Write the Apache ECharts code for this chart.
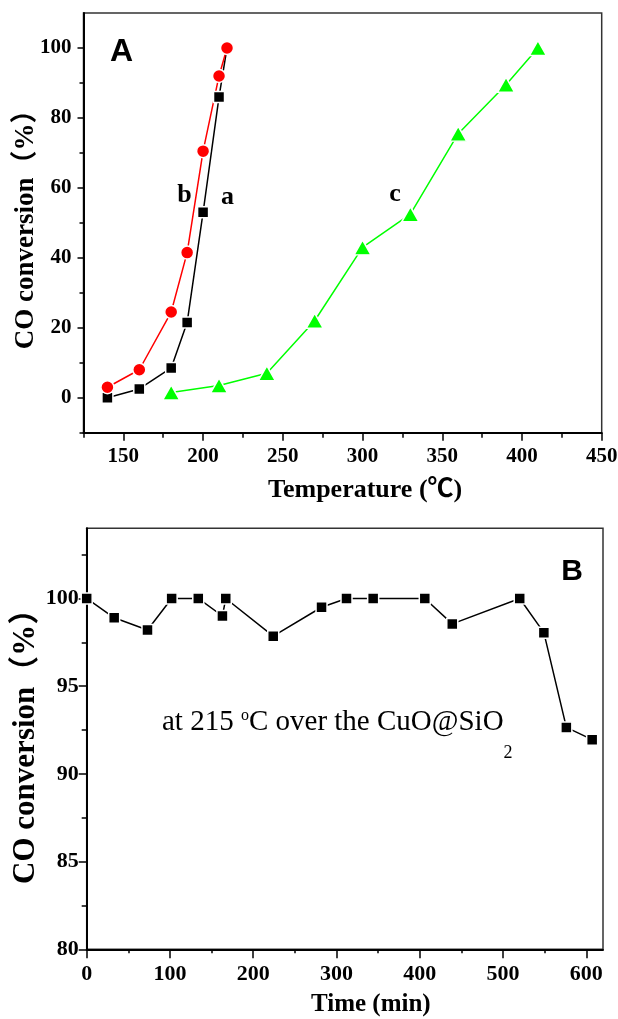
<!DOCTYPE html>
<html>
<head>
<meta charset="utf-8">
<script src="https://cdn.jsdelivr.net/npm/echarts@6/dist/echarts.min.js"></script>
<style>
  html, body { margin: 0; padding: 0; background: #fff; }
  #chart { width: 618px; height: 1019px; }
</style>
</head>
<body>
<div id="chart"></div>
<script>
// panel A: light-off curves
const tempA = [140, 160, 180, 190, 200, 210, 215];
const convA = [0, 2.5, 8.5, 21.5, 53, 86, 100];
const tempB = [140, 160, 180, 190, 200, 210, 215];
const convB = [3, 8, 24.5, 41.5, 70.5, 92, 100];
const tempC = [180, 210, 240, 270, 300, 330, 360, 390, 410];
const convC = [1.5, 3.5, 7, 22, 43, 52.5, 75.5, 89.5, 100];

// panel B: stability at 215 °C
const timeMin = [0, 33, 73, 102, 134, 163, 167, 224, 282, 312, 344, 406, 439, 520, 549, 576, 607];
const stability = [100, 98.9, 98.2, 100, 100, 99, 100, 97.85, 99.5, 100, 100, 100, 98.55, 100, 98.05, 92.65, 91.95];

// tick labels
const tempTicks = [150, 200, 250, 300, 350, 400, 450];
const tempMinor = [125, 175, 225, 275, 325, 375, 425];
const convTicks = [0, 20, 40, 60, 80, 100];
const convMinor = [-10, 10, 30, 50, 70, 90];
const timeTicks = [0, 100, 200, 300, 400, 500, 600];
const timeMinor = [50, 150, 250, 350, 450, 550];
const stabTicks = [80, 85, 90, 95, 100];
const stabMinor = [82.5, 87.5, 92.5, 97.5, 102.5];

const serif = '"Liberation Serif", "Times New Roman", "Noto Sans CJK SC", serif';
const sans = '"Liberation Sans", Arial, sans-serif';

const chart = echarts.init(document.getElementById('chart'));

const axisLine = { show: true, onZero: false, lineStyle: { color: '#000', width: 2 } };
function labelStyle(size) {
  return { fontFamily: serif, fontWeight: 'bold', fontSize: size, color: '#000' };
}

// major axis carries line, labels and long ticks; a twin axis only draws the short ticks
function majorAxis(extra, ticks, tickLen, margin, size) {
  return Object.assign({
    type: 'value',
    axisLine: axisLine,
    splitLine: { show: false },
    nameMoveOverlap: false,
    axisTick: { show: true, inside: false, length: tickLen, customValues: ticks,
      lineStyle: { color: '#000', width: 1.5 } },
    axisLabel: Object.assign({ customValues: ticks, margin: margin }, labelStyle(size))
  }, extra);
}
function minorAxis(extra, ticks, tickLen) {
  return Object.assign({
    type: 'value',
    axisLine: { show: false, onZero: false },
    splitLine: { show: false },
    axisTick: { show: true, inside: false, length: tickLen, customValues: ticks,
      lineStyle: { color: '#000', width: 1.5 } },
    axisLabel: { show: false }
  }, extra);
}

const option = {
  animation: false,
  grid: [
    { left: 83.5, top: 13, right: 16.3, bottom: 586.3, outerBoundsMode: 'none',
      show: true, borderColor: '#333', borderWidth: 1.5 },
    { left: 86.7, top: 528.3, right: 15, bottom: 69.7, outerBoundsMode: 'none',
      show: true, borderColor: '#333', borderWidth: 1.5 }
  ],
  xAxis: [
    majorAxis({ gridIndex: 0, min: 125, max: 450, position: 'bottom',
      name: 'Temperature (℃)', nameLocation: 'middle', nameGap: 45,
      nameTextStyle: Object.assign(labelStyle(26), { padding: [0, 0, 0, 45] }) },
      tempTicks, 8, 13, 21),
    minorAxis({ gridIndex: 0, min: 125, max: 450, position: 'bottom' }, tempMinor, 5),
    majorAxis({ gridIndex: 1, min: 0, max: 620, position: 'bottom',
      name: 'Time (min)', nameLocation: 'middle', nameGap: 43,
      nameTextStyle: Object.assign(labelStyle(25), { padding: [0, 0, 0, 52] }) },
      timeTicks, 9, 14, 22),
    minorAxis({ gridIndex: 1, min: 0, max: 620, position: 'bottom' }, timeMinor, 4)
  ],
  yAxis: [
    majorAxis({ gridIndex: 0, min: -10, max: 110, position: 'left',
      name: 'CO conversion（%）', nameLocation: 'middle', nameGap: 44,
      nameTextStyle: labelStyle(27) },
      convTicks, 6, 12, 21),
    minorAxis({ gridIndex: 0, min: -10, max: 110, position: 'left' }, convMinor, 4),
    majorAxis({ gridIndex: 1, min: 80, max: 104, position: 'left',
      name: 'CO conversion（%）', nameLocation: 'middle', nameGap: 45,
      nameTextStyle: labelStyle(31) },
      stabTicks, 8, 8, 22),
    minorAxis({ gridIndex: 1, min: 80, max: 104, position: 'left' }, stabMinor, 5)
  ],
  series: [
    {
      name: 'a', type: 'line', xAxisIndex: 0, yAxisIndex: 0,
      data: tempA.map((t, i) => [t, convA[i]]),
      symbol: 'rect', symbolSize: 11,
      lineStyle: { color: '#000', width: 1.5 },
      itemStyle: { color: '#000', borderColor: '#fff', borderWidth: 1.5 }
    },
    {
      name: 'b', type: 'line', xAxisIndex: 0, yAxisIndex: 0,
      data: tempB.map((t, i) => [t, convB[i]]),
      symbol: 'circle', symbolSize: 13,
      lineStyle: { color: '#ff0000', width: 1.5 },
      itemStyle: { color: '#ff0000', borderColor: '#fff', borderWidth: 1.5 }
    },
    {
      name: 'c', type: 'line', xAxisIndex: 0, yAxisIndex: 0,
      data: tempC.map((t, i) => [t, convC[i]]),
      symbol: 'triangle', symbolSize: [17, 15],
      lineStyle: { color: '#00ff00', width: 1.5 },
      itemStyle: { color: '#00ff00', borderColor: '#fff', borderWidth: 1.5 }
    },
    {
      name: 'stability', type: 'line', xAxisIndex: 2, yAxisIndex: 2,
      data: timeMin.map((t, i) => [t, stability[i]]),
      symbol: 'rect', symbolSize: 11,
      lineStyle: { color: '#000', width: 1.5 },
      itemStyle: { color: '#000', borderColor: '#fff', borderWidth: 1.5 }
    }
  ],
  graphic: [
    { type: 'text', x: 121.5, y: 52, style: { text: 'A', font: 'bold 32px ' + sans, fill: '#000', align: 'center', verticalAlign: 'middle' } },
    { type: 'text', x: 572, y: 571.5, style: { text: 'B', font: 'bold 30px ' + sans, fill: '#000', align: 'center', verticalAlign: 'middle' } },
    { type: 'text', x: 184.5, y: 195, style: { text: 'b', font: 'bold 26px ' + serif, fill: '#000', align: 'center', verticalAlign: 'middle' } },
    { type: 'text', x: 227.5, y: 197, style: { text: 'a', font: 'bold 26px ' + serif, fill: '#000', align: 'center', verticalAlign: 'middle' } },
    { type: 'text', x: 395, y: 194, style: { text: 'c', font: 'bold 26px ' + serif, fill: '#000', align: 'center', verticalAlign: 'middle' } },
    {
      // annotation with superscript degree and subscript 2
      type: 'text', x: 162, y: 681.7,
      style: {
        text: 'at 215 {sup|o}C over the CuO@SiO{sub|2}',
        fontFamily: serif, fontSize: 29, lineHeight: 81, fill: '#000',
        align: 'left', verticalAlign: 'top',
        rich: {
          sup: { fontFamily: serif, fontSize: 16, lineHeight: 16, verticalAlign: 'top', padding: [26, 0, 0, 0] },
          sub: { fontFamily: serif, fontSize: 18, lineHeight: 18, verticalAlign: 'bottom' }
        }
      }
    }
  ]
};

chart.setOption(option);
</script>
</body>
</html>
